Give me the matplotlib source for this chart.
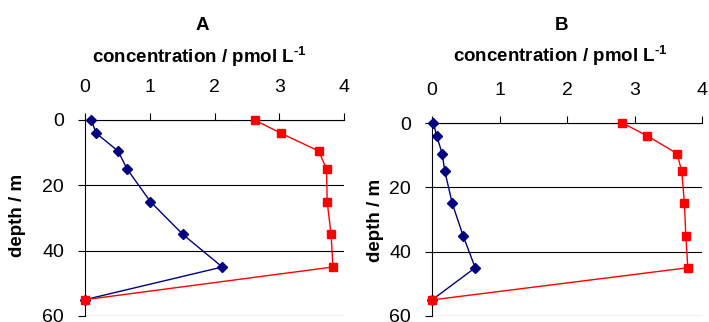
import matplotlib
matplotlib.use("Agg")
import matplotlib.pyplot as plt

plt.rcParams["font.family"] = ["Liberation Sans", "DejaVu Sans"]
plt.rcParams["mathtext.fontset"] = "custom"
plt.rcParams["mathtext.rm"] = "Liberation Sans:bold"
plt.rcParams["mathtext.bf"] = "Liberation Sans:bold"

# Dados
depth = [0, 4, 9.5, 15, 25, 35, 45, 55]

a_blue = [0.10, 0.17, 0.51, 0.65, 1.01, 1.51, 2.12, 0.0]
a_red = [2.62, 3.02, 3.61, 3.73, 3.74, 3.80, 3.83, 0.0]

b_blue = [0.02, 0.07, 0.15, 0.19, 0.30, 0.46, 0.64, 0.0]
b_red = [2.82, 3.19, 3.63, 3.70, 3.74, 3.76, 3.79, 0.0]

panels = ["A", "B"]
xticks = [0, 1, 2, 3, 4]
yticks = [0, 20, 40, 60]

fig = plt.figure(figsize=(7.09, 3.22), dpi=100)
W, H = 709, 322
boxes = [(85, 120, 259, 196), (432, 123, 270, 193)]
# posições dos textos (pixels): título, eixo x, eixo y
text_pos = [((202, 26), (199, 57), (17, 215)), ((562, 26), (560, 56), (376, 220))]


def px(x, y):
    return x / W, 1 - y / H


for (l, t, w, h), name, blue, red, (tp, xp, yp) in zip(
        boxes, panels, [a_blue, b_blue], [a_red, b_red], text_pos):
    ax = fig.add_axes([l / W, 1 - (t + h) / H, w / W, h / H])
    ax.plot(blue, depth, color="#000080", lw=1, marker="D", ms=5.5, clip_on=False, zorder=3)
    ax.plot(red, depth, color="#ff0000", lw=1, marker="s", ms=6, clip_on=False, zorder=3)
    ax.set_xlim(0, 4)
    ax.set_ylim(60, 0)
    ax.set_xticks(xticks)
    ax.set_yticks(yticks)
    ax.xaxis.tick_top()
    ax.tick_params(labelsize=14, length=5, width=0.8, color="black")
    ax.tick_params(axis="x", pad=12)
    ax.tick_params(axis="y", pad=10)
    ax.yaxis.grid(True, color="black", lw=0.8)
    ax.set_axisbelow(True)
    for s in ["right", "bottom"]:
        ax.spines[s].set_visible(False)
    ax.spines["top"].set_linewidth(0.8)
    ax.spines["left"].set_linewidth(0.8)
    fig.text(*px(*tp), name, fontsize=13.5, fontweight="bold", ha="center", va="center")
    fig.text(*px(*xp), r"concentration / pmol L$^{\text{-1}}$", fontsize=13.5,
             fontweight="bold", ha="center", va="center")
    fig.text(*px(*yp), "depth / m", fontsize=13.5, fontweight="bold",
             ha="center", va="center", rotation=90)

fig.savefig("out.png", dpi=100)
